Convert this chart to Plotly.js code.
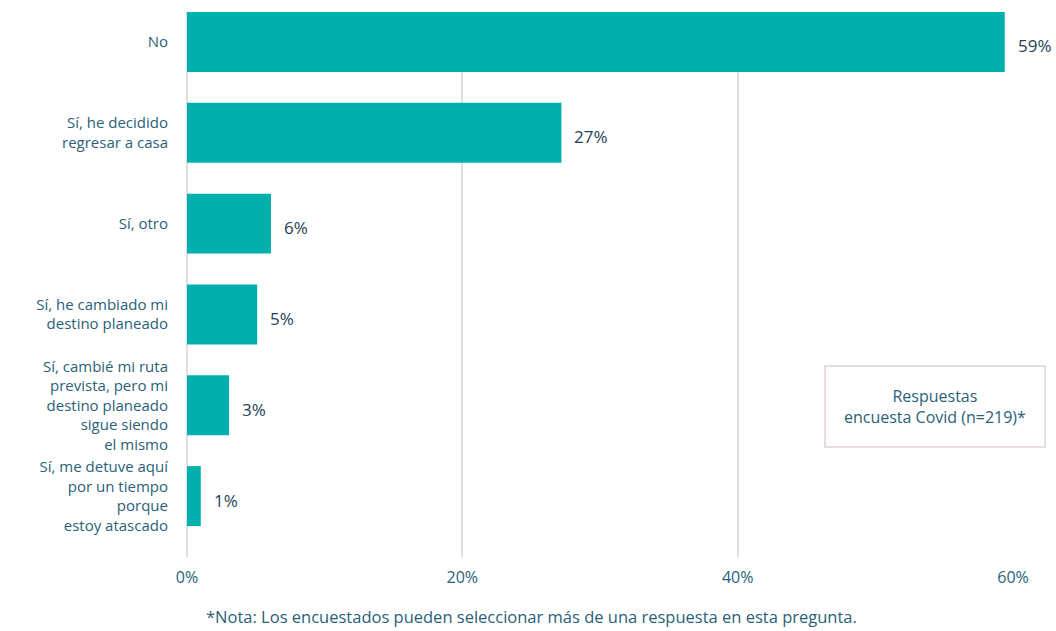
<!DOCTYPE html>
<html>
<head>
<meta charset="utf-8">
<script src="https://cdn.plot.ly/plotly-3.0.1.min.js"></script>
<style>html,body{margin:0;padding:0;background:#fff;}#chart{width:1056px;height:631px;}</style>
</head>
<body>
<div id="chart"></div>
<script>
const categories = [
  "No",
  "Sí, he decidido<br>regresar a casa",
  "Sí, otro",
  "Sí, he cambiado mi<br>destino planeado",
  "Sí, cambié mi ruta<br>prevista, pero mi<br>destino planeado<br>sigue siendo<br>el mismo",
  "Sí, me detuve aquí<br>por un tiempo<br>porque<br>estoy atascado"
];
const values = [59.4, 27.2, 6.1, 5.1, 3.05, 1.0];
const valueLabels = ["59%", "27%", "6%", "5%", "3%", "1%"];
const xTicks = [0, 20, 40, 60];
const xTickLabels = ["0%", "20%", "40%", "60%"];
const boxText = "Respuestas<br>encuesta Covid (n=219)*";
const footnote = "*Nota: Los encuestados pueden seleccionar más de una respuesta en esta pregunta.";

const FONT = "'Open Sans', 'Noto Sans', sans-serif";
const LABEL_COLOR = "#2a5f78";
const VALUE_COLOR = "#1e3f55";
const GRID = "#e3dde0";

const trace = {
  type: "bar",
  orientation: "h",
  y: categories,
  x: values,
  marker: {color: "#00b0ad"},
  width: 0.66,
  hoverinfo: "none"
};

const annotations = values.map((v, i) => ({
  x: v, y: categories[i], xref: "x", yref: "y",
  text: valueLabels[i], showarrow: false,
  xanchor: "left", yanchor: "middle", xshift: 11, yshift: -4,
  font: {family: FONT, size: 17, color: VALUE_COLOR}
}));

annotations.push({
  x: 0.9056, y: 0.277, xref: "paper", yref: "paper",
  text: boxText, showarrow: false,
  xanchor: "center", yanchor: "middle",
  align: "center",
  bgcolor: "#ffffff", bordercolor: "#e6dde0", borderwidth: 2,
  borderpad: 18, width: 182,
  font: {family: FONT, size: 16, color: LABEL_COLOR}
});

annotations.push({
  x: 0.417, y: -0.11, xref: "paper", yref: "paper",
  text: footnote, showarrow: false,
  xanchor: "center", yanchor: "middle",
  font: {family: FONT, size: 16.5, color: LABEL_COLOR}
});

const layout = {
  width: 1056, height: 631,
  margin: {l: 187, r: 43, t: 12, b: 74},
  paper_bgcolor: "#fff", plot_bgcolor: "#fff",
  showlegend: false,
  bargap: 0.34,
  xaxis: {
    range: [0, 60], tickvals: xTicks, ticktext: xTickLabels,
    showgrid: true, gridcolor: GRID, gridwidth: 2,
    zeroline: true, zerolinecolor: GRID, zerolinewidth: 2,
    showline: false, ticks: "", ticklabelstandoff: 9,
    tickfont: {family: FONT, size: 16, color: LABEL_COLOR}
  },
  yaxis: {
    range: [5.67, -0.33],
    showgrid: false, zeroline: false, showline: false,
    ticks: "", ticklabelstandoff: 18,
    tickfont: {family: FONT, size: 15, color: LABEL_COLOR}
  },
  annotations: annotations
};

Plotly.newPlot("chart", [trace], layout, {displayModeBar: false, staticPlot: true});
</script>
</body>
</html>
